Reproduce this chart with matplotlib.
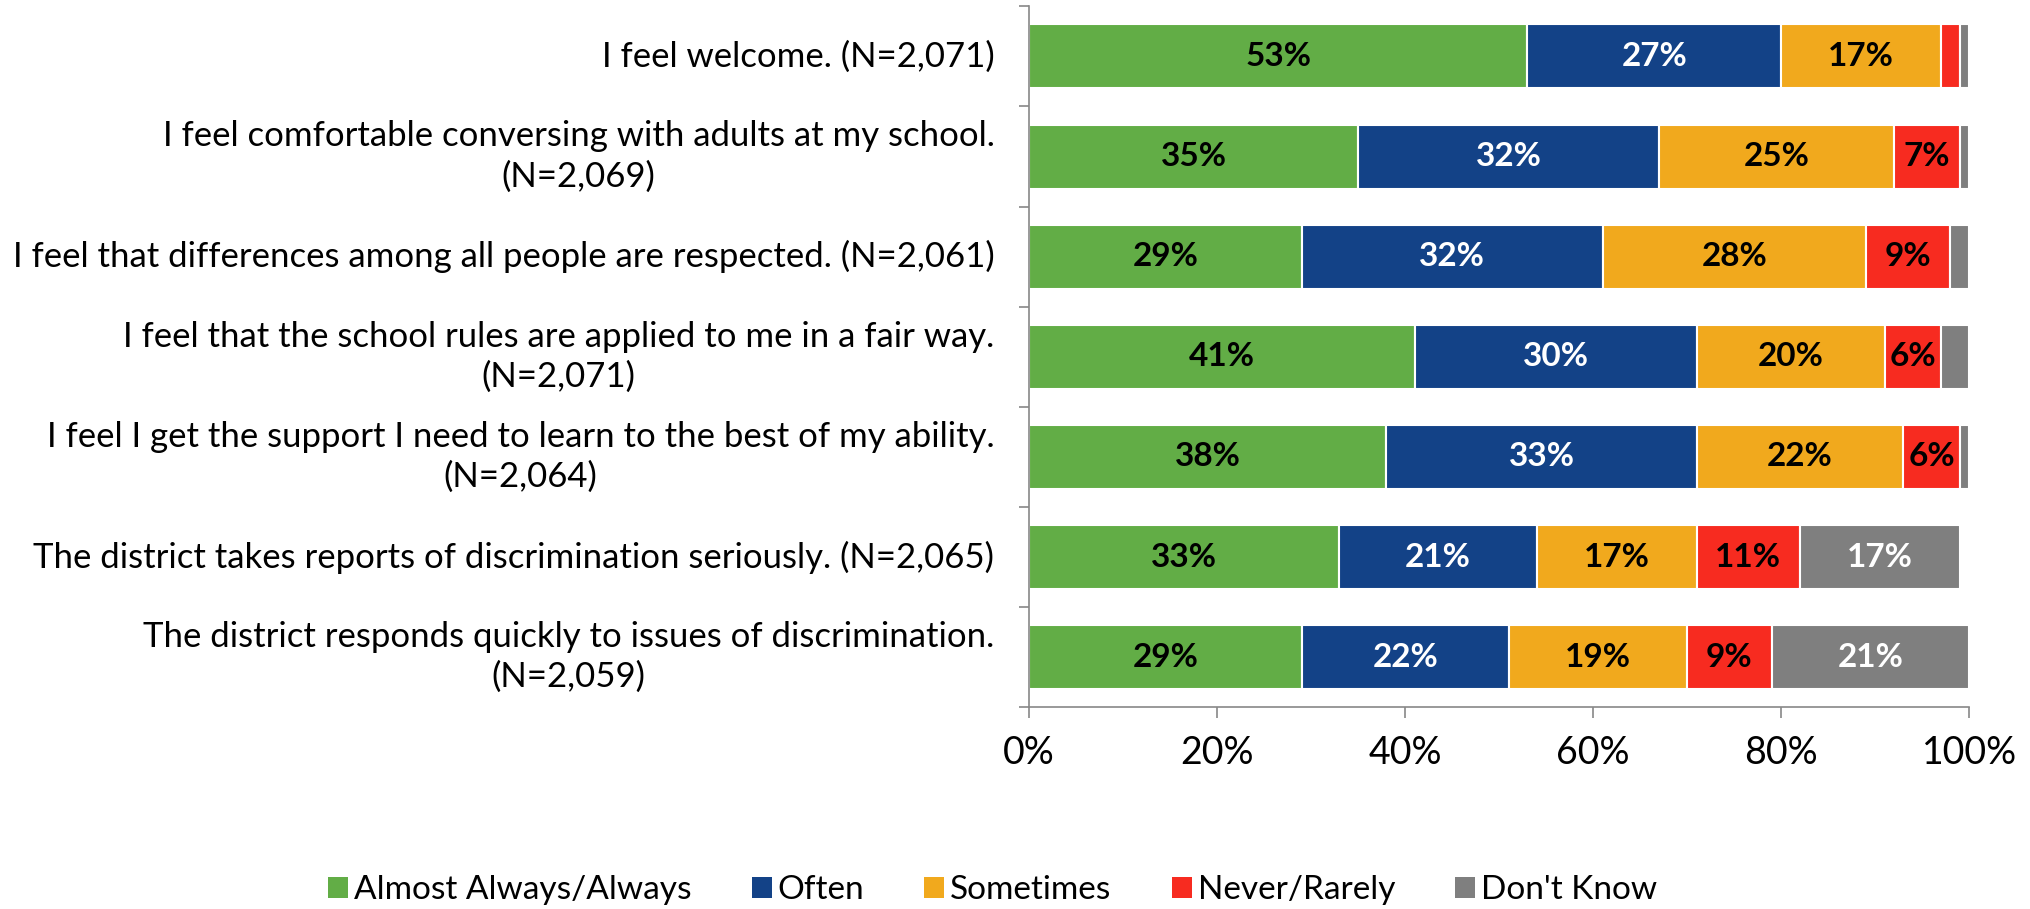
import matplotlib
matplotlib.use("Agg")
import matplotlib.pyplot as plt
import numpy as np

plt.rcParams['font.family'] = ['Lato', 'DejaVu Sans']

categories = [
    "I feel welcome. (N=2,071)",
    "I feel comfortable conversing with adults at my school.\n(N=2,069)",
    "I feel that differences among all people are respected. (N=2,061)",
    "I feel that the school rules are applied to me in a fair way.\n(N=2,071)",
    "I feel I get the support I need to learn to the best of my ability.\n(N=2,064)",
    "The district takes reports of discrimination seriously. (N=2,065)",
    "The district responds quickly to issues of discrimination.\n(N=2,059)",
]
series_names = ["Almost Always/Always", "Often", "Sometimes", "Never/Rarely", "Don't Know"]
almost_always = [53, 35, 29, 41, 38, 33, 29]
often = [27, 32, 32, 30, 33, 21, 22]
sometimes = [17, 25, 28, 20, 22, 17, 19]
never_rarely = [2, 7, 9, 6, 6, 11, 9]
dont_know = [1, 1, 2, 3, 1, 17, 21]
min_label = 5

series = [almost_always, often, sometimes, never_rarely, dont_know]
colors = ["#62AD46", "#134287", "#F1A91D", "#F72B20", "#7F7F7F"]
text_colors = ["black", "white", "black", "black", "white"]

fig = plt.figure(figsize=(20.30, 9.09), dpi=100)
ax = fig.add_axes([0.507, 0.222, 0.463, 0.771])

y = np.arange(len(categories))
left = np.zeros(len(categories))
for vals, col, tc, name in zip(series, colors, text_colors, series_names):
    vals = np.array(vals, dtype=float)
    ax.barh(y, vals, left=left, height=0.64, color=col, edgecolor="white",
            linewidth=1.5, label=name)
    for yi, (l, v) in enumerate(zip(left, vals)):
        if v >= min_label:
            ax.text(l + v / 2, yi, f"{int(v)}%", ha="center", va="center",
                    color=tc, fontsize=24, fontweight="bold")
    left += vals

ax.set_xlim(0, 100)
ax.set_ylim(len(categories) - 0.5, -0.5)
ax.set_xticks(np.arange(0, 101, 20))
ax.set_xticklabels([f"{v}%" for v in range(0, 101, 20)], fontsize=27)
ax.set_yticks(y)
ax.set_yticklabels(categories, fontsize=25)
for t in ax.get_yticklabels():
    t.set_multialignment("center")
    t.set_linespacing(1.3)
    t.set_verticalalignment("center")
ax.tick_params(axis="y", length=0, pad=25)
ax.tick_params(axis="x", length=8, color="#888888", width=1.2, pad=12)
ax.set_yticks(np.arange(-0.5, len(categories), 1), minor=True)
ax.tick_params(axis="y", which="minor", length=7, color="#888888", width=1.2)

for s in ["top", "right"]:
    ax.spines[s].set_visible(False)
for s in ["left", "bottom"]:
    ax.spines[s].set_color("#888888")
    ax.spines[s].set_linewidth(1.2)

handles, labels = ax.get_legend_handles_labels()
leg = fig.legend(handles, labels, loc="center", bbox_to_anchor=(0.489, 0.021),
                 ncol=5, frameon=False, fontsize=24, handlelength=0.6,
                 handleheight=0.6, handletextpad=0.18, columnspacing=1.8)
for h in leg.legend_handles:
    h.set_edgecolor("none")

fig.savefig("out.png", dpi=100)
